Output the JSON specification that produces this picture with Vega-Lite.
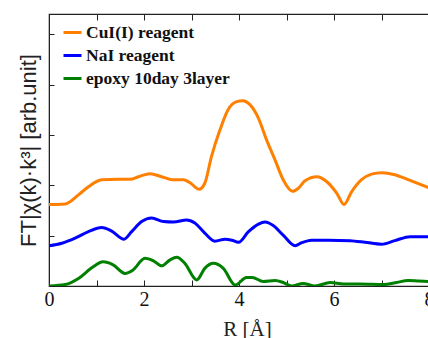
{
  "$schema": "https://vega.github.io/schema/vega-lite/v6.json",
  "width": 380,
  "height": 272,
  "autosize": {"type": "none"},
  "padding": {"left": 49, "top": 14, "right": 0, "bottom": 52},
  "background": "white",
  "config": {
    "view": {"stroke": "#222", "strokeWidth": 1.2},
    "axis": {"grid": false, "domainColor": "#222", "tickColor": "#222", "labelColor": "#111", "titleColor": "#222"}
  },
  "data": {"values": [
    {"s": "CuI(I) reagent", "r": 0.0, "v": 1.62},
    {"s": "CuI(I) reagent", "r": 0.34, "v": 1.63},
    {"s": "CuI(I) reagent", "r": 0.62, "v": 1.81},
    {"s": "CuI(I) reagent", "r": 0.83, "v": 1.97},
    {"s": "CuI(I) reagent", "r": 1.11, "v": 2.11},
    {"s": "CuI(I) reagent", "r": 1.46, "v": 2.12},
    {"s": "CuI(I) reagent", "r": 1.71, "v": 2.12},
    {"s": "CuI(I) reagent", "r": 1.88, "v": 2.17},
    {"s": "CuI(I) reagent", "r": 2.13, "v": 2.23},
    {"s": "CuI(I) reagent", "r": 2.37, "v": 2.17},
    {"s": "CuI(I) reagent", "r": 2.6, "v": 2.11},
    {"s": "CuI(I) reagent", "r": 2.83, "v": 2.11},
    {"s": "CuI(I) reagent", "r": 2.97, "v": 2.05},
    {"s": "CuI(I) reagent", "r": 3.16, "v": 1.92},
    {"s": "CuI(I) reagent", "r": 3.28, "v": 2.04},
    {"s": "CuI(I) reagent", "r": 3.42, "v": 2.57},
    {"s": "CuI(I) reagent", "r": 3.6, "v": 3.1},
    {"s": "CuI(I) reagent", "r": 3.77, "v": 3.5},
    {"s": "CuI(I) reagent", "r": 3.95, "v": 3.66},
    {"s": "CuI(I) reagent", "r": 4.08, "v": 3.68},
    {"s": "CuI(I) reagent", "r": 4.23, "v": 3.6},
    {"s": "CuI(I) reagent", "r": 4.41, "v": 3.33},
    {"s": "CuI(I) reagent", "r": 4.58, "v": 2.9},
    {"s": "CuI(I) reagent", "r": 4.76, "v": 2.5},
    {"s": "CuI(I) reagent", "r": 4.93, "v": 2.11},
    {"s": "CuI(I) reagent", "r": 5.13, "v": 1.88},
    {"s": "CuI(I) reagent", "r": 5.25, "v": 1.94},
    {"s": "CuI(I) reagent", "r": 5.39, "v": 2.09},
    {"s": "CuI(I) reagent", "r": 5.64, "v": 2.17},
    {"s": "CuI(I) reagent", "r": 5.85, "v": 2.07},
    {"s": "CuI(I) reagent", "r": 6.06, "v": 1.84},
    {"s": "CuI(I) reagent", "r": 6.21, "v": 1.62},
    {"s": "CuI(I) reagent", "r": 6.37, "v": 1.87},
    {"s": "CuI(I) reagent", "r": 6.58, "v": 2.11},
    {"s": "CuI(I) reagent", "r": 6.79, "v": 2.22},
    {"s": "CuI(I) reagent", "r": 7.0, "v": 2.25},
    {"s": "CuI(I) reagent", "r": 7.28, "v": 2.21},
    {"s": "CuI(I) reagent", "r": 7.56, "v": 2.11},
    {"s": "CuI(I) reagent", "r": 8.0, "v": 1.95},

    {"s": "NaI reagent", "r": 0.0, "v": 0.8},
    {"s": "NaI reagent", "r": 0.27, "v": 0.85},
    {"s": "NaI reagent", "r": 0.55, "v": 0.95},
    {"s": "NaI reagent", "r": 0.83, "v": 1.08},
    {"s": "NaI reagent", "r": 1.11, "v": 1.16},
    {"s": "NaI reagent", "r": 1.32, "v": 1.09},
    {"s": "NaI reagent", "r": 1.58, "v": 0.93},
    {"s": "NaI reagent", "r": 1.74, "v": 1.08},
    {"s": "NaI reagent", "r": 1.95, "v": 1.28},
    {"s": "NaI reagent", "r": 2.16, "v": 1.35},
    {"s": "NaI reagent", "r": 2.41, "v": 1.28},
    {"s": "NaI reagent", "r": 2.62, "v": 1.27},
    {"s": "NaI reagent", "r": 2.9, "v": 1.31},
    {"s": "NaI reagent", "r": 3.07, "v": 1.25},
    {"s": "NaI reagent", "r": 3.28, "v": 1.05},
    {"s": "NaI reagent", "r": 3.49, "v": 0.89},
    {"s": "NaI reagent", "r": 3.71, "v": 0.93},
    {"s": "NaI reagent", "r": 3.85, "v": 0.91},
    {"s": "NaI reagent", "r": 3.99, "v": 0.87},
    {"s": "NaI reagent", "r": 4.2, "v": 1.08},
    {"s": "NaI reagent", "r": 4.41, "v": 1.23},
    {"s": "NaI reagent", "r": 4.55, "v": 1.27},
    {"s": "NaI reagent", "r": 4.72, "v": 1.2},
    {"s": "NaI reagent", "r": 4.93, "v": 1.01},
    {"s": "NaI reagent", "r": 5.18, "v": 0.8},
    {"s": "NaI reagent", "r": 5.32, "v": 0.86},
    {"s": "NaI reagent", "r": 5.53, "v": 0.91},
    {"s": "NaI reagent", "r": 5.88, "v": 0.91},
    {"s": "NaI reagent", "r": 6.34, "v": 0.9},
    {"s": "NaI reagent", "r": 6.65, "v": 0.87},
    {"s": "NaI reagent", "r": 7.0, "v": 0.83},
    {"s": "NaI reagent", "r": 7.28, "v": 0.9},
    {"s": "NaI reagent", "r": 7.6, "v": 0.98},
    {"s": "NaI reagent", "r": 8.0, "v": 0.98},

    {"s": "epoxy 10day 3layer", "r": 0.0, "v": 0.0},
    {"s": "epoxy 10day 3layer", "r": 0.34, "v": 0.03},
    {"s": "epoxy 10day 3layer", "r": 0.62, "v": 0.15},
    {"s": "epoxy 10day 3layer", "r": 0.9, "v": 0.36},
    {"s": "epoxy 10day 3layer", "r": 1.14, "v": 0.48},
    {"s": "epoxy 10day 3layer", "r": 1.35, "v": 0.42},
    {"s": "epoxy 10day 3layer", "r": 1.6, "v": 0.25},
    {"s": "epoxy 10day 3layer", "r": 1.77, "v": 0.32},
    {"s": "epoxy 10day 3layer", "r": 2.02, "v": 0.55},
    {"s": "epoxy 10day 3layer", "r": 2.2, "v": 0.5},
    {"s": "epoxy 10day 3layer", "r": 2.37, "v": 0.4},
    {"s": "epoxy 10day 3layer", "r": 2.55, "v": 0.52},
    {"s": "epoxy 10day 3layer", "r": 2.69, "v": 0.57},
    {"s": "epoxy 10day 3layer", "r": 2.86, "v": 0.45},
    {"s": "epoxy 10day 3layer", "r": 3.11, "v": 0.12},
    {"s": "epoxy 10day 3layer", "r": 3.28, "v": 0.35},
    {"s": "epoxy 10day 3layer", "r": 3.46, "v": 0.45},
    {"s": "epoxy 10day 3layer", "r": 3.67, "v": 0.35},
    {"s": "epoxy 10day 3layer", "r": 3.92, "v": 0.02},
    {"s": "epoxy 10day 3layer", "r": 4.16, "v": 0.17},
    {"s": "epoxy 10day 3layer", "r": 4.28, "v": 0.17},
    {"s": "epoxy 10day 3layer", "r": 4.51, "v": 0.09},
    {"s": "epoxy 10day 3layer", "r": 4.76, "v": 0.11},
    {"s": "epoxy 10day 3layer", "r": 4.93, "v": 0.07},
    {"s": "epoxy 10day 3layer", "r": 5.11, "v": 0.0},
    {"s": "epoxy 10day 3layer", "r": 5.35, "v": 0.05},
    {"s": "epoxy 10day 3layer", "r": 5.6, "v": 0.0},
    {"s": "epoxy 10day 3layer", "r": 5.92, "v": 0.07},
    {"s": "epoxy 10day 3layer", "r": 6.2, "v": 0.04},
    {"s": "epoxy 10day 3layer", "r": 6.55, "v": 0.04},
    {"s": "epoxy 10day 3layer", "r": 7.04, "v": 0.03},
    {"s": "epoxy 10day 3layer", "r": 7.32, "v": 0.07},
    {"s": "epoxy 10day 3layer", "r": 7.56, "v": 0.11},
    {"s": "epoxy 10day 3layer", "r": 7.78, "v": 0.1},
    {"s": "epoxy 10day 3layer", "r": 8.0, "v": 0.09}
  ]},
  "layer": [
    {
      "mark": {"type": "line", "strokeWidth": 3, "interpolate": "monotone", "clip": true},
      "encoding": {
        "x": {"field": "r", "type": "quantitative", "scale": {"domain": [0, 8], "nice": false},
          "axis": {"orient": "bottom", "values": [0,1,2,3,4,5,6,7,8], "labelExpr": "datum.value % 2 === 0 ? datum.label : ''",
            "tickSize": -6, "labelPadding": 9, "labelFont": "Liberation Serif", "labelFontSize": 20, "labelFlush": false,
            "title": "R [Å]", "titleFont": "Liberation Serif", "titleFontSize": 21, "titleFontWeight": "normal",
            "titleX": 198, "titleY": 49, "titleBaseline": "alphabetic", "titleAlign": "center"}},
        "y": {"field": "v", "type": "quantitative", "scale": {"domain": [0, 5.4], "nice": false},
          "axis": {"values": [0,1,2,3,4,5], "labels": false, "tickSize": -5,
            "title": "FT|χ(k)·k³| [arb.unit]", "titleFont": "Liberation Sans", "titleFontSize": 22, "titleFontWeight": "normal",
            "titleX": -21, "titleY": 136, "titleAngle": -90, "titleAlign": "center", "titleBaseline": "middle"}},
        "color": {"field": "s", "type": "nominal",
          "scale": {"domain": ["CuI(I) reagent", "NaI reagent", "epoxy 10day 3layer"], "range": ["#ff8000", "#0000ff", "#008000"]},
          "legend": {"title": null, "orient": "none", "legendX": 13, "legendY": 8, "padding": 0,
            "symbolType": "stroke", "symbolSize": 324, "symbolStrokeWidth": 3, "labelFont": "Liberation Serif",
            "labelFontSize": 17.5, "labelFontWeight": "bold", "labelColor": "#111", "labelOffset": 3, "rowPadding": 4}}
      }
    },
    {
      "mark": {"type": "rule", "opacity": 0},
      "encoding": {
        "x": {"datum": 0, "type": "quantitative",
          "axis": {"orient": "top", "values": [0,1,2,3,4,5,6,7,8], "labels": false, "tickSize": -6, "title": null}}
      }
    }
  ],
  "resolve": {"axis": {"x": "independent"}}
}
